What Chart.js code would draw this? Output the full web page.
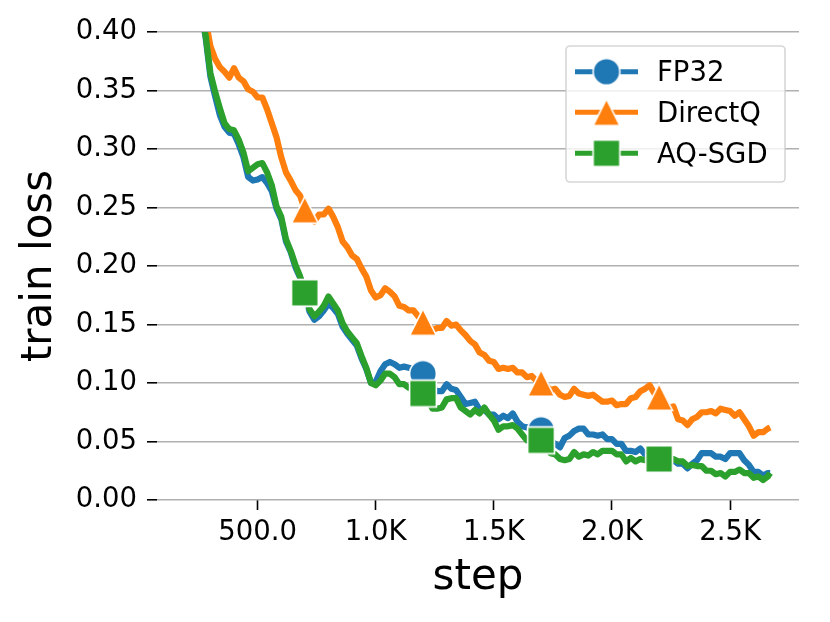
<!DOCTYPE html>
<html><head><meta charset="utf-8">
<style>html,body{margin:0;padding:0;background:#fff;overflow:hidden}</style>
<script src="https://cdn.jsdelivr.net/npm/chart.js@4.4.1/dist/chart.umd.min.js"></script>
</head><body>
<canvas id="c" width="830" height="622" style="width:830px;height:622px;display:block"></canvas>
<script>
const steps = [
200,220,240,260,280,300,320,340,360,380,
400,420,440,460,480,500,520,540,560,580,
600,620,640,660,680,700,720,740,760,780,
800,820,840,860,880,900,920,940,960,980,
1000,1020,1040,1060,1080,1100,1120,1140,1160,1180,
1200,1220,1240,1260,1280,1300,1320,1340,1360,1380,
1400,1420,1440,1460,1480,1500,1520,1540,1560,1580,
1600,1620,1640,1660,1680,1700,1720,1740,1760,1780,
1800,1820,1840,1860,1880,1900,1920,1940,1960,1980,
2000,2020,2040,2060,2080,2100,2120,2140,2160,2180,
2200,2220,2240,2260,2280,2300,2320,2340,2360,2380,
2400,2420,2440,2460,2480,2500,2520,2540,2560,2580,
2600,2620,2640,2660,2670];

const fp32 = [
0.50,0.47,0.445,0.42,0.395,0.362,0.345,0.329,0.319,0.314,
0.313,0.304,0.293,0.276,0.273,0.274,0.276,0.271,0.264,0.249,
0.240,0.221,0.212,0.199,0.190,0.176,0.161,0.154,0.157,0.162,
0.168,0.164,0.159,0.148,0.142,0.137,0.132,0.121,0.112,0.100,
0.101,0.110,0.116,0.118,0.116,0.113,0.114,0.113,0.112,0.109,
0.108,0.104,0.096,0.093,0.093,0.099,0.095,0.094,0.088,0.082,
0.083,0.084,0.077,0.077,0.073,0.073,0.069,0.072,0.070,0.074,
0.067,0.063,0.062,0.063,0.060,0.060,0.057,0.050,0.048,0.045,
0.053,0.055,0.059,0.061,0.061,0.056,0.056,0.055,0.056,0.052,
0.052,0.048,0.048,0.042,0.042,0.041,0.044,0.039,0.039,0.036,
0.036,0.036,0.033,0.034,0.031,0.031,0.027,0.031,0.034,0.040,
0.040,0.040,0.037,0.037,0.035,0.040,0.040,0.040,0.034,0.030,
0.024,0.024,0.021,0.023,0.023];

const directQ = [
0.505,0.48,0.455,0.43,0.41,0.388,0.377,0.370,0.366,0.361,
0.369,0.361,0.358,0.351,0.349,0.344,0.344,0.334,0.322,0.310,
0.293,0.280,0.273,0.265,0.260,0.248,0.241,0.238,0.244,0.244,
0.249,0.242,0.233,0.221,0.216,0.209,0.206,0.198,0.191,0.179,
0.173,0.175,0.181,0.178,0.174,0.166,0.165,0.162,0.162,0.157,
0.152,0.150,0.145,0.147,0.147,0.153,0.149,0.150,0.145,0.141,
0.136,0.133,0.126,0.124,0.119,0.118,0.112,0.113,0.112,0.113,
0.109,0.109,0.105,0.106,0.102,0.100,0.098,0.094,0.095,0.090,
0.088,0.089,0.095,0.091,0.090,0.089,0.090,0.087,0.084,0.084,
0.085,0.081,0.082,0.082,0.087,0.088,0.093,0.095,0.098,0.091,
0.088,0.085,0.079,0.080,0.069,0.068,0.064,0.069,0.071,0.075,
0.075,0.076,0.074,0.078,0.077,0.076,0.072,0.075,0.069,0.063,
0.055,0.058,0.058,0.061,0.062];

const aqsgd = [
0.50,0.47,0.445,0.42,0.397,0.365,0.349,0.335,0.322,0.317,
0.316,0.308,0.297,0.281,0.284,0.287,0.288,0.280,0.269,0.251,
0.242,0.223,0.213,0.201,0.191,0.177,0.163,0.157,0.161,0.166,
0.174,0.168,0.162,0.151,0.144,0.139,0.134,0.123,0.113,0.100,
0.098,0.102,0.108,0.108,0.105,0.099,0.099,0.096,0.096,0.091,
0.091,0.087,0.078,0.078,0.079,0.086,0.087,0.087,0.079,0.076,
0.073,0.077,0.074,0.079,0.073,0.068,0.060,0.063,0.063,0.064,
0.061,0.056,0.051,0.054,0.051,0.051,0.047,0.040,0.039,0.035,
0.034,0.035,0.041,0.037,0.039,0.038,0.041,0.039,0.042,0.042,
0.042,0.039,0.039,0.033,0.036,0.033,0.035,0.034,0.036,0.034,
0.035,0.035,0.033,0.035,0.033,0.033,0.029,0.030,0.029,0.029,
0.025,0.025,0.022,0.023,0.020,0.024,0.024,0.026,0.023,0.023,
0.019,0.020,0.017,0.020,0.023];

const markerSteps = [700, 1200, 1700, 2200];
const xTicks = [500, 1000, 1500, 2000, 2500];
const xTickLabels = ['500.0', '1.0K', '1.5K', '2.0K', '2.5K'];
const yTicks = [0, 0.05, 0.10, 0.15, 0.20, 0.25, 0.30, 0.35, 0.40];
const yTickLabels = ['0.00', '0.05', '0.10', '0.15', '0.20', '0.25', '0.30', '0.35', '0.40'];
const seriesNames = ['FP32', 'DirectQ', 'AQ-SGD'];
const xTitle = 'step';
const yTitle = 'train loss';

const FONT = "'DejaVu Sans', 'Liberation Sans', sans-serif";
const colors = ['#1f77b4', '#ff7f0e', '#2ca02c'];
const shapes = ['circle', 'triangle', 'square'];

function makeMarker(shape, color) {
  const s = 32, c = document.createElement('canvas');
  c.width = s; c.height = s;
  const g = c.getContext('2d');
  g.fillStyle = color; g.strokeStyle = '#ffffff'; g.lineWidth = 1.6; g.lineJoin = 'miter';
  const h = 13.4, m = s / 2;
  g.beginPath();
  if (shape === 'circle') g.arc(m, m, h, 0, Math.PI * 2);
  else if (shape === 'square') g.rect(m - h, m - h, 2 * h, 2 * h);
  else { g.moveTo(m, m - h); g.lineTo(m + h, m + h); g.lineTo(m - h, m + h); g.closePath(); }
  g.fill(); g.stroke();
  return c;
}
const markers = shapes.map((s, i) => makeMarker(s, colors[i]));
const seriesValues = [fp32, directQ, aqsgd];

function makeDataset(i, order) {
  return {
    label: seriesNames[i],
    data: steps.map((s, k) => ({x: s, y: seriesValues[i][k]})),
    borderColor: colors[i],
    backgroundColor: colors[i],
    borderWidth: 6.2,
    borderJoinStyle: 'round',
    borderCapStyle: 'butt',
    tension: 0,
    fill: false,
    clip: 0,
    order: order,
    pointStyle: markers[i],
    pointRadius: (ctx) => markerSteps.includes(steps[ctx.dataIndex]) ? 13 : 0,
    pointHoverRadius: 0,
    pointBorderWidth: 0
  };
}

const legendPlugin = {
  id: 'mplLegend',
  afterDraw(chart) {
    const ctx = chart.ctx;
    const a = chart.chartArea;
    const bx = a.right - 233, by = a.top + 14, bw = 219, bh = 136, r = 4;
    ctx.save();
    ctx.beginPath();
    ctx.moveTo(bx + r, by);
    ctx.lineTo(bx + bw - r, by); ctx.arcTo(bx + bw, by, bx + bw, by + r, r);
    ctx.lineTo(bx + bw, by + bh - r); ctx.arcTo(bx + bw, by + bh, bx + bw - r, by + bh, r);
    ctx.lineTo(bx + r, by + bh); ctx.arcTo(bx, by + bh, bx, by + bh - r, r);
    ctx.lineTo(bx, by + r); ctx.arcTo(bx, by, bx + r, by, r);
    ctx.closePath();
    ctx.fillStyle = 'rgba(255,255,255,0.8)';
    ctx.fill();
    ctx.strokeStyle = 'rgba(204,204,204,0.8)';
    ctx.lineWidth = 1.6;
    ctx.stroke();
    const rows = [by + 25.7, by + 66.3, by + 107.3];
    for (let i = 0; i < 3; i++) {
      const y = rows[i];
      ctx.beginPath();
      ctx.strokeStyle = colors[i];
      ctx.lineWidth = 5;
      ctx.lineCap = 'butt';
      ctx.moveTo(bx + 9, y); ctx.lineTo(bx + 72, y);
      ctx.stroke();
      ctx.drawImage(markers[i], bx + 40.5 - 16, y - 16);
      ctx.fillStyle = '#000';
      ctx.font = '27.5px ' + FONT;
      ctx.textAlign = 'left';
      ctx.textBaseline = 'alphabetic';
      ctx.fillText(seriesNames[i], bx + 91, y + 9.5);
    }
    ctx.restore();
  }
};

Chart.defaults.font.family = FONT;

new Chart(document.getElementById('c'), {
  type: 'line',
  data: { datasets: [makeDataset(2, 0), makeDataset(1, 1), makeDataset(0, 2)] },
  options: {
    responsive: false,
    animation: false,
    events: [],
    layout: { padding: { left: 0, right: 31, top: 32, bottom: 0 } },
    plugins: { legend: { display: false }, tooltip: { enabled: false } },
    scales: {
      x: {
        type: 'linear',
        min: 74, max: 2792,
        border: { display: false },
        grid: { display: true, drawOnChartArea: false, drawTicks: true, tickLength: 10, tickColor: '#000', tickWidth: 1.6 },
        afterBuildTicks: (scale) => { scale.ticks = xTicks.map(v => ({ value: v })); },
        ticks: {
          autoSkip: false, maxRotation: 0, minRotation: 0, padding: 6,
          color: '#000', font: { size: 27.5, family: FONT },
          callback: (v) => { const i = xTicks.indexOf(v); return i >= 0 ? xTickLabels[i] : ''; }
        },
        title: { display: true, text: xTitle, color: '#000', font: { size: 42, family: FONT }, padding: { top: 0, bottom: 19 } },
        afterFit: (scale) => { scale.height = 122; }
      },
      y: {
        type: 'linear',
        min: 0, max: 0.4,
        border: { display: false },
        grid: { display: true, drawOnChartArea: true, drawTicks: true, tickLength: 10, color: '#b0b0b0', lineWidth: 1.6, tickColor: '#000', tickWidth: 1.6 },
        afterBuildTicks: (scale) => { scale.ticks = yTicks.map(v => ({ value: v })); },
        ticks: {
          autoSkip: false, padding: 10,
          color: '#000', font: { size: 27.5, family: FONT },
          callback: (v) => { const i = yTicks.findIndex(t => Math.abs(t - v) < 1e-9); return i >= 0 ? yTickLabels[i] : ''; }
        },
        title: { display: true, text: yTitle, color: '#000', font: { size: 42, family: FONT }, padding: { top: 15, bottom: 0 } },
        afterFit: (scale) => { scale.width = 157; }
      }
    }
  },
  plugins: [legendPlugin]
});
</script>
</body></html>
